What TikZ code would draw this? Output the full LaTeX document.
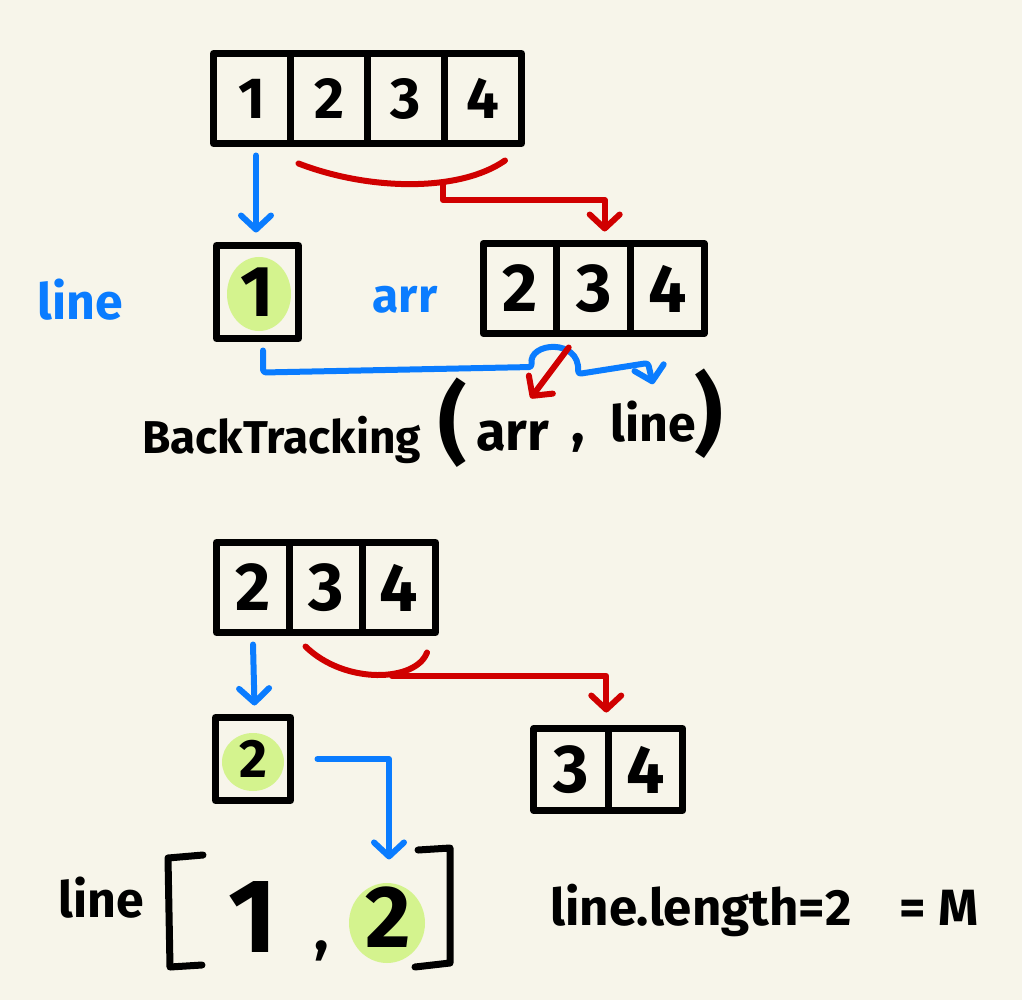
\documentclass[tikz,border=0pt]{standalone}
\usepackage{fontspec}
\setmainfont{Fira Sans}
\usetikzlibrary{positioning,calc,arrows.meta,backgrounds}
\definecolor{paper}{RGB}{247,245,234}
\definecolor{skyblue}{RGB}{10,124,255}
\definecolor{inkred}{RGB}{208,0,0}
\definecolor{hl}{RGB}{212,243,142}
\begin{document}
\begin{tikzpicture}[x=1pt, y=-1pt,
        cell/.style={draw, line width=7pt, line join=round, outer sep=0pt, inner sep=0pt,
            minimum width=77pt, minimum height=90pt, font=\bfseries\fontsize{58}{60}\selectfont},
        bigcell/.style={cell, font=\bfseries\fontsize{68}{70}\selectfont},
        hand/.style={inner sep=0pt, font=\bfseries\fontsize{50}{52}\selectfont},
        ink/.style={line width=7pt, line cap=round, line join=round},
        blueline/.style={draw=skyblue, line width=6pt, line cap=round, line join=round},
        redline/.style={draw=inkred, line width=6pt, line cap=round, line join=round},
        headed/.style={-{Straight Barb[length=14pt,width=30pt,round]}}]
    \useasboundingbox (0,0) rectangle (1022,1000);

    % first split
    \node[cell] (t1) at (252,98.5) {1};
    \node[cell, right=0pt of t1] (t2) {2};
    \node[cell, right=0pt of t2] (t3) {3};
    \node[cell, right=0pt of t3] (t4) {4};

    \node[cell, minimum width=82pt, minimum height=93pt, font=\bfseries\fontsize{72}{74}\selectfont] (one) at (257.5,292) {1};
    \node[bigcell, minimum width=73.7pt] (a2) at (520,288.5) {2};
    \node[bigcell, minimum width=73.7pt, right=0pt of a2] (a3) {3};
    \node[bigcell, minimum width=73.7pt, right=0pt of a3] (a4) {4};

    \node[hand, text=skyblue] (linelbl) at (80,300) {line};
    \node[hand, text=skyblue, font=\bfseries\fontsize{48}{50}\selectfont] (arrlbl) at (405,300) {arr};

    \node[hand, anchor=base west, font=\bfseries\fontsize{46}{48}\selectfont] (call) at (142,453) {BackTracking};
    \node[hand, font=\bfseries\fontsize{88}{90}\selectfont] (lparen) at (453,423) {(};
    \node[hand, anchor=base west, font=\bfseries\fontsize{54}{56}\selectfont] (callarr) at (476,450) {arr};
    \node[hand, anchor=base, font=\bfseries\fontsize{56}{58}\selectfont] (callcomma) at (578,442) {,};
    \node[hand, anchor=base west] (callline) at (610,441) {line};
    \node[hand, font=\bfseries\fontsize{88}{90}\selectfont] (rparen) at (709,414) {)};

    \draw[blueline, headed] ($(t1.south -| one.north)+(-1.5,12)$) -- ($(one.north)+(-1.5,-13)$);
    \draw[redline] ($(t2.south west)+(8,20)$) .. controls (370,191) and (460,192) .. ($(t4.south)+(22,17)$);
    \coordinate (tsplit) at (443,184);
    \draw[redline, headed] (tsplit) -- ++(0,16) -| ($(a3.north)+(11,-12)$);
    \draw[blueline, headed, rounded corners=3pt] ($(one.south)+(5.5,12)$) -- ++(0,22) -- (532,367)
        .. controls (528,342) and (580,338) .. (578,374) -- (648,363) -- ($(callline.north)+(0,-16)$);
    \draw[redline, headed] ($(a3.south)+(-25,14)$) -- ($(callarr.north)+(18,-22)$);

    % second split
    \node[bigcell, minimum width=73pt] (b2) at (253,587.5) {2};
    \node[bigcell, minimum width=73pt, right=0pt of b2] (b3) {3};
    \node[bigcell, minimum width=73pt, right=0pt of b3] (b4) {4};

    \node[cell, minimum width=75pt, minimum height=83pt, font=\bfseries\fontsize{54}{56}\selectfont] (two) at (253,759) {2};
    \node[bigcell, minimum width=74.5pt, minimum height=82pt] (c3) at (571,769.5) {3};
    \node[bigcell, minimum width=74.5pt, minimum height=82pt, right=0pt of c3] (c4) {4};

    \node[hand] (listlbl) at (101,898) {line};
    \draw[ink] (203,855) -- (168,858) -- (170,967) -- (202,965);
    \draw[ink] (418,850) -- (450,848) -- (450,963) -- (415,967);
    \node[hand, font=\bfseries\fontsize{105}{107}\selectfont] (l1) at (253,917) {1};
    \node[hand, anchor=base, font=\bfseries\fontsize{60}{62}\selectfont] (lcomma) at (322,950) {,};
    \node[hand, font=\bfseries\fontsize{88}{90}\selectfont] (l2) at (388,917) {2};

    \node[hand, anchor=base west, font=\bfseries\fontsize{51}{53}\selectfont] (lenlbl) at (550,925) {line.length=2\hspace{48pt}= M};

    \draw[blueline, headed] ($(b2.south)+(0,12)$) -- ($(two.north)+(1.5,-12)$);
    \draw[redline] ($(b3.south west)+(16,14)$) .. controls (345,685) and (416,682) .. ($(b4.south)+(28,20)$);
    \coordinate (bsplit) at (392,676);
    \draw[redline, headed] (bsplit) -| ($(c3.north east)+(-2,-16)$);
    \draw[blueline, headed] ($(two.east)+(27,0)$) -| ($(l2.north)+(1,-27)$);

    \begin{scope}[on background layer]
        \fill[paper] (0,0) rectangle (1022,1000);
        \fill[hl] ($(one.center)+(1.5,2)$) ellipse [x radius=32, y radius=37];
        \fill[hl] ($(two.center)+(0,3)$) ellipse [x radius=31, y radius=29];
        \fill[hl] ($(l2.center)+(-1,6)$) ellipse [x radius=38, y radius=40];
    \end{scope}
\end{tikzpicture}
\end{document}
